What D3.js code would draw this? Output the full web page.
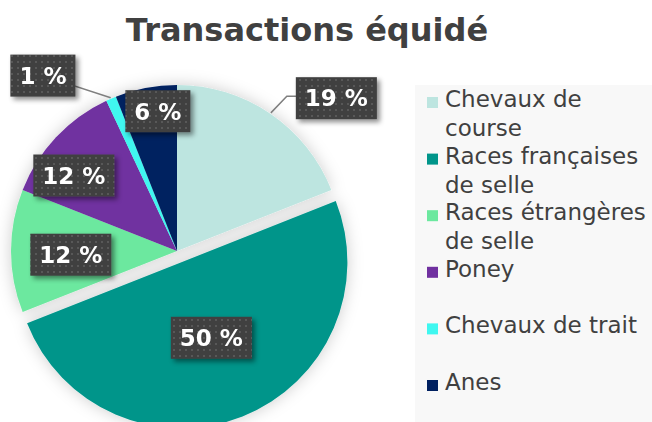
<!DOCTYPE html>
<html>
<head>
<meta charset="utf-8">
<script src="https://cdn.jsdelivr.net/npm/d3@7"></script>
<style>
	html, body { margin: 0; padding: 0; background: #fff; }
	svg { display: block; }
</style>
</head>
<body>
<div id="chart"></div>
<script>
// data
const categories = ["Chevaux de course", "Races françaises de selle", "Races étrangères de selle", "Poney", "Chevaux de trait", "Anes"];
const shares = [19, 50, 12, 12, 1, 6];
const colors = ["#bde5e0", "#00958a", "#6ce89f", "#7030a0", "#3ff7f0", "#002060"];
const title = "Transactions équidé";

const width = 652, height = 422;
const cx = 177, cy = 251, radius = 166;
const explode = [0, 12, 0, 0, 0, 0];

// where each label sits: fraction of radius and angle shift (deg), callout or not
const labelPlace = [
	{ r: 1.33, da: 12, callout: "elbow" },
	{ r: 0.49, da: 0 },
	{ r: 0.64, da: -2 },
	{ r: 0.77, da: -7 },
	{ r: 1.33, da: -14, callout: "straight" },
	{ r: 0.85, da: 3 }
];

const svg = d3.select("#chart").append("svg")
	.attr("width", width)
	.attr("height", height);

const defs = svg.append("defs");

// soft grey halo behind the pie
const halo = defs.append("filter").attr("id", "halo")
	.attr("x", "-20%").attr("y", "-20%").attr("width", "140%").attr("height", "140%");
halo.append("feGaussianBlur").attr("in", "SourceAlpha").attr("stdDeviation", 8).attr("result", "b");
halo.append("feFlood").attr("flood-color", "#000").attr("flood-opacity", 0.2);
halo.append("feComposite").attr("in2", "b").attr("operator", "in").attr("result", "s");
const hm = halo.append("feMerge");
hm.append("feMergeNode").attr("in", "s");
hm.append("feMergeNode").attr("in", "SourceGraphic");

// label box shadow
const boxShadow = defs.append("filter").attr("id", "boxShadow")
	.attr("x", "-30%").attr("y", "-30%").attr("width", "160%").attr("height", "160%");
boxShadow.append("feGaussianBlur").attr("in", "SourceAlpha").attr("stdDeviation", 2.5).attr("result", "b");
boxShadow.append("feOffset").attr("in", "b").attr("dx", 3).attr("dy", 3).attr("result", "o");
boxShadow.append("feFlood").attr("flood-color", "#000").attr("flood-opacity", 0.45);
boxShadow.append("feComposite").attr("in2", "o").attr("operator", "in").attr("result", "s");
const bm = boxShadow.append("feMerge");
bm.append("feMergeNode").attr("in", "s");
bm.append("feMergeNode").attr("in", "SourceGraphic");

// dotted fill of label boxes
const dots = defs.append("pattern").attr("id", "dots")
	.attr("width", 6).attr("height", 6).attr("patternUnits", "userSpaceOnUse");
dots.append("rect").attr("width", 6).attr("height", 6).attr("fill", "#404040");
dots.append("rect").attr("x", 2).attr("y", 2).attr("width", 2).attr("height", 2).attr("fill", "#595959");

// title
svg.append("text")
	.attr("x", 307)
	.attr("y", 41)
	.attr("text-anchor", "middle")
	.style("font", "bold 32px 'DejaVu Sans', sans-serif")
	.attr("fill", "#404040")
	.text(title);

// pie
const pie = d3.pie().sort(null).value(d => d)(shares);
const arc = d3.arc().innerRadius(0).outerRadius(radius);
const rad = a => a * Math.PI / 180;

const g = svg.append("g")
	.attr("transform", `translate(${cx},${cy})`);

g.append("g")
	.attr("filter", "url(#halo)")
	.selectAll("path")
	.data(pie)
	.join("path")
	.attr("fill", (d, i) => colors[i])
	.attr("transform", (d, i) => {
		const m = (d.startAngle + d.endAngle) / 2;
		return `translate(${explode[i] * Math.sin(m)},${-explode[i] * Math.cos(m)})`;
	})
	.attr("d", arc);

// labels
g.append("g").selectAll("g")
	.data(pie)
	.join("g")
	.each(function(d, i) {
		const p = labelPlace[i];
		const m = (d.startAngle + d.endAngle) / 2;
		const a = m + rad(p.da);
		const lx = explode[i] * Math.sin(m) + p.r * radius * Math.sin(a);
		const ly = -explode[i] * Math.cos(m) - p.r * radius * Math.cos(a);
		const sel = d3.select(this);

		const txt = sel.append("text")
			.attr("x", lx)
			.attr("y", ly)
			.attr("dy", "0.36em")
			.attr("text-anchor", "middle")
			.style("font", "bold 23px 'DejaVu Sans', sans-serif")
			.attr("fill", "#fff")
			.text(d3.format("d")(shares[i]) + " %");
		const bb = txt.node().getBBox();
		const bw = bb.width + 18, bh = 42;

		if (p.callout) {
			const ex = (radius + 1) * Math.sin(m), ey = -(radius + 1) * Math.cos(m);
			let pts;
			if (p.callout === "elbow") {
				pts = [[ex, ey], [lx - bw / 2 - 9, ly - 2], [lx, ly - 2]];
			} else {
				pts = [[ex, ey], [lx, ly]];
			}
			sel.insert("path", "text")
				.attr("d", d3.line()(pts))
				.attr("fill", "none")
				.attr("stroke", "#7f7f7f")
				.attr("stroke-width", 1.5);
		}

		sel.insert("rect", "text")
			.attr("x", lx - bw / 2)
			.attr("y", ly - bh / 2)
			.attr("width", bw)
			.attr("height", bh)
			.attr("fill", "url(#dots)")
			.attr("filter", "url(#boxShadow)");
	});

// legend
const lg = svg.append("g");
lg.append("rect")
	.attr("x", 415).attr("y", 85)
	.attr("width", width - 415).attr("height", height - 85)
	.attr("fill", "#f8f8f8");

const legendY = d3.scalePoint().domain(d3.range(categories.length)).range([107, 390]);
const maxW = width - 445;

categories.forEach((name, i) => {
	const y0 = legendY(i);
	lg.append("rect")
		.attr("x", 427).attr("y", y0 - 10)
		.attr("width", 11).attr("height", 11)
		.attr("fill", colors[i]);
	const t = lg.append("text")
		.attr("x", 445).attr("y", y0)
		.style("font", "23px 'DejaVu Sans', sans-serif")
		.attr("fill", "#404040");
	// wrap words to the legend width
	const words = name.split(" ");
	let line = [], lineNo = 0;
	let ts = t.append("tspan").attr("x", 445).attr("y", y0);
	words.forEach(w => {
		line.push(w);
		ts.text(line.join(" "));
		if (ts.node().getComputedTextLength() > maxW && line.length > 1) {
			line.pop();
			ts.text(line.join(" "));
			line = [w];
			lineNo++;
			ts = t.append("tspan").attr("x", 445).attr("y", y0 + lineNo * 29).text(w);
		}
	});
});
</script>
</body>
</html>
